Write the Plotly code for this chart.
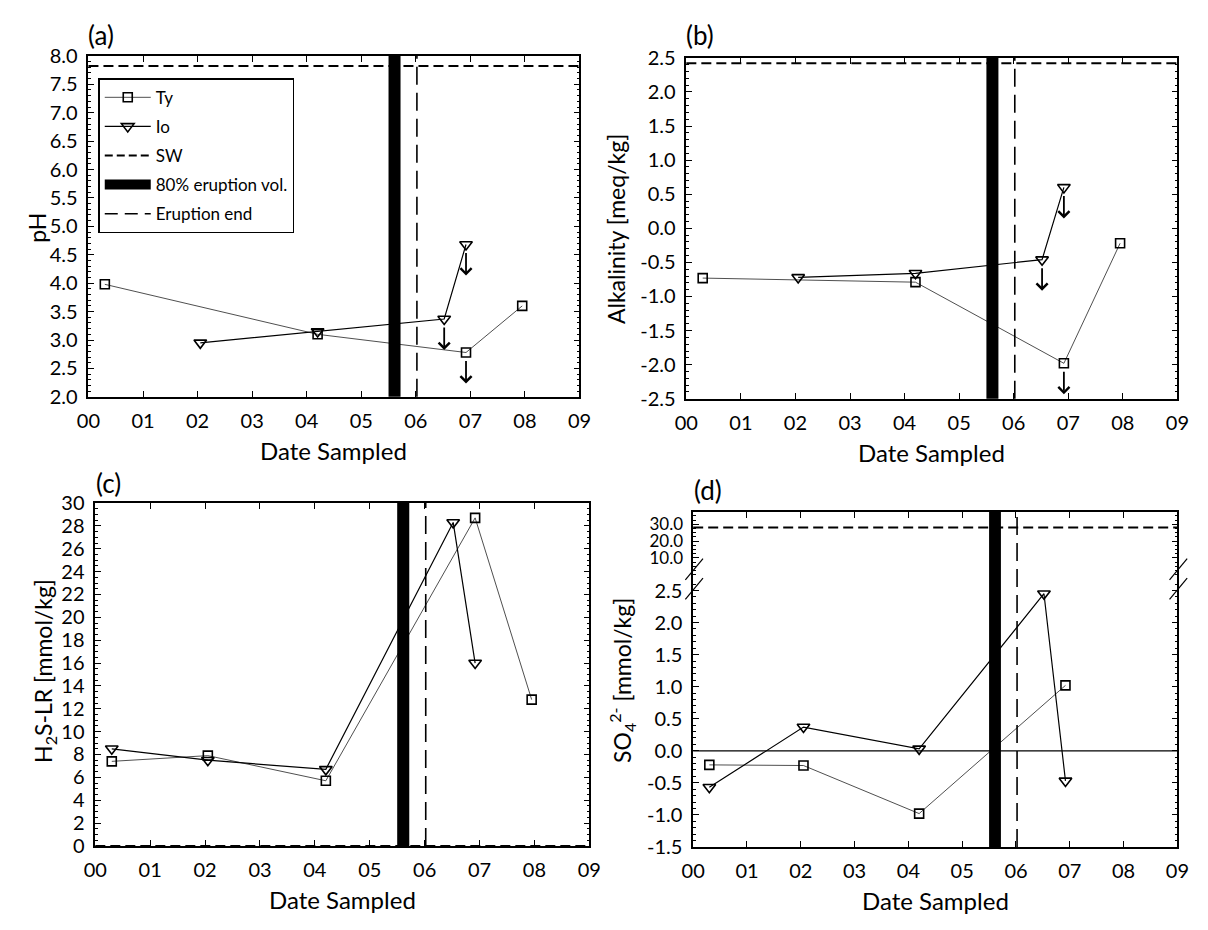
import plotly.graph_objects as go

W, H = 1208, 930

# ---------------- data ----------------
x_tick_vals = [0, 1, 2, 3, 4, 5, 6, 7, 8, 9]
x_tick_labels = ["00", "01", "02", "03", "04", "05", "06", "07", "08", "09"]

eruption80_x0 = 5.50
eruption80_x1 = 5.72
eruption_end_x = 6.02

# (a) pH
ph_ty_x = [0.30, 4.20, 6.92, 7.95]
ph_ty_y = [3.98, 3.10, 2.78, 3.60]
ph_ty_limit = [False, False, True, False]
ph_io_x = [2.05, 4.20, 6.52, 6.92]
ph_io_y = [2.95, 3.15, 3.37, 4.68]
ph_io_limit = [False, False, True, True]
ph_sw = 7.82
ph_ticks = [2.0, 2.5, 3.0, 3.5, 4.0, 4.5, 5.0, 5.5, 6.0, 6.5, 7.0, 7.5, 8.0]
ph_tick_labels = ["2.0", "2.5", "3.0", "3.5", "4.0", "4.5", "5.0", "5.5",
                  "6.0", "6.5", "7.0", "7.5", "8.0"]

# (b) Alkalinity
alk_ty_x = [0.30, 4.20, 6.92, 7.95]
alk_ty_y = [-0.73, -0.79, -1.98, -0.22]
alk_ty_limit = [False, False, True, False]
alk_io_x = [2.05, 4.20, 6.52, 6.92]
alk_io_y = [-0.72, -0.66, -0.46, 0.60]
alk_io_limit = [False, False, True, True]
alk_sw = 2.42
alk_ticks = [-2.5, -2.0, -1.5, -1.0, -0.5, 0.0, 0.5, 1.0, 1.5, 2.0, 2.5]
alk_tick_labels = ["-2.5", "-2.0", "-1.5", "-1.0", "-0.5", "0.0", "0.5",
                   "1.0", "1.5", "2.0", "2.5"]

# (c) H2S-LR
h2s_ty_x = [0.30, 2.05, 4.20, 6.92, 7.95]
h2s_ty_y = [7.4, 7.9, 5.7, 28.7, 12.8]
h2s_io_x = [0.30, 2.05, 4.20, 6.52, 6.92]
h2s_io_y = [8.5, 7.5, 6.7, 28.3, 16.0]
h2s_sw = 0.0
h2s_ticks = list(range(0, 31, 2))
h2s_tick_labels = [str(v) for v in h2s_ticks]

# (d) SO4
so4_ty_x = [0.30, 2.05, 4.20, 6.92]
so4_ty_y = [-0.22, -0.23, -0.98, 1.02]
so4_io_x = [0.30, 2.05, 4.20, 6.52, 6.92]
so4_io_y = [-0.57, 0.37, 0.03, 2.45, -0.47]
so4_sw = 28.2
so4_ticks_low = [-1.5, -1.0, -0.5, 0.0, 0.5, 1.0, 1.5, 2.0, 2.5]
so4_tick_labels_low = ["-1.5", "-1.0", "-0.5", "0.0", "0.5", "1.0", "1.5",
                       "2.0", "2.5"]
so4_ticks_high = [10, 20, 30]
so4_tick_labels_high = ["10.0", "20.0", "30.0"]

# ---------------- layout helpers ----------------
def px_x(p):
    return p / W

def px_y(p):
    return 1 - p / H

FONT = "Lato"
TICKFONT = dict(family=FONT, size=20, color="black")

panels = {
    "a": dict(x=(78, 579), y=(44, 394)),
    "b": dict(x=(688, 1189), y=(46, 396)),
    "c": dict(x=(85, 589), y=(503, 855)),
    "d": dict(x=(695, 1189), y=(512, 856), brk=581),
}

fig = go.Figure()

ty_style = dict(mode="lines+markers",
                line=dict(color="#222222", width=0.8),
                marker=dict(symbol="square-open", size=9,
                            color="black", line=dict(width=1.6)))
io_style = dict(mode="lines+markers",
                line=dict(color="black", width=1.2),
                marker=dict(symbol="triangle-down-open", size=11,
                            color="black", line=dict(width=1.6)))

SW_DASH = "10px,5px"
END_DASH = "18px,8px"

# legend traces come first (panel a)
fig.add_trace(go.Scatter(x=ph_ty_x, y=ph_ty_y, name="Ty", xaxis="x", yaxis="y",
                         legendgroup="g1", showlegend=True, **ty_style))
fig.add_trace(go.Scatter(x=ph_io_x, y=ph_io_y, name="Io", xaxis="x", yaxis="y",
                         legendgroup="g2", showlegend=True, **io_style))
fig.add_trace(go.Scatter(x=[None], y=[None], name="SW", mode="lines",
                         line=dict(color="black", width=2, dash="8px,4px"),
                         legendgroup="g3", xaxis="x", yaxis="y"))
fig.add_trace(go.Scatter(x=[None], y=[None], name="80% eruption vol.", mode="lines",
                         line=dict(color="black", width=10),
                         legendgroup="g4", xaxis="x", yaxis="y"))
fig.add_trace(go.Scatter(x=[None], y=[None], name="Eruption end", mode="lines",
                         line=dict(color="black", width=1.6, dash="13px,7px"),
                         legendgroup="g5", xaxis="x", yaxis="y"))

# other panels
fig.add_trace(go.Scatter(x=alk_ty_x, y=alk_ty_y, name="Ty", xaxis="x2", yaxis="y2",
                         showlegend=False, **ty_style))
fig.add_trace(go.Scatter(x=alk_io_x, y=alk_io_y, name="Io", xaxis="x2", yaxis="y2",
                         showlegend=False, **io_style))
fig.add_trace(go.Scatter(x=h2s_ty_x, y=h2s_ty_y, name="Ty", xaxis="x3", yaxis="y3",
                         showlegend=False, **ty_style))
fig.add_trace(go.Scatter(x=h2s_io_x, y=h2s_io_y, name="Io", xaxis="x3", yaxis="y3",
                         showlegend=False, **io_style))
fig.add_trace(go.Scatter(x=so4_ty_x, y=so4_ty_y, name="Ty", xaxis="x4", yaxis="y4",
                         showlegend=False, **ty_style))
fig.add_trace(go.Scatter(x=so4_io_x, y=so4_io_y, name="Io", xaxis="x4", yaxis="y4",
                         showlegend=False, **io_style))

# ---------------- axes ----------------
def xaxis_def(key, anchor, labels=True, side="bottom", mirror="ticks"):
    p = panels[key]
    return dict(domain=[px_x(p["x"][0]), px_x(p["x"][1])], anchor=anchor,
                range=[0, 9], tickmode="array", tickvals=x_tick_vals,
                ticktext=x_tick_labels, showticklabels=labels,
                ticks="inside", ticklen=6, tickwidth=1.3, tickcolor="black",
                showline=True, linecolor="black", linewidth=1.5, mirror=mirror,
                side=side, showgrid=False, zeroline=False, tickfont=TICKFONT,
                ticklabelstandoff=5)

def yaxis_def(dom, anchor, rng, vals, labels, minor_dtick, font=TICKFONT):
    return dict(domain=dom, anchor=anchor, range=rng, tickmode="array",
                tickvals=vals, ticktext=labels, ticks="inside", ticklen=6,
                tickwidth=1.3, tickcolor="black", showline=True,
                linecolor="black", linewidth=1.5, mirror="ticks",
                showgrid=False, zeroline=False, tickfont=font,
                minor=dict(ticks="inside", ticklen=3, tickcolor="black",
                           tickmode="linear", tick0=0, dtick=minor_dtick,
                           showgrid=False),
                ticklabelstandoff=5)

pa, pb, pc, pd = panels["a"], panels["b"], panels["c"], panels["d"]
fig.update_layout(
    xaxis=xaxis_def("a", "y"),
    yaxis=yaxis_def([px_y(pa["y"][1]), px_y(pa["y"][0])], "x", [2, 8],
                    ph_ticks, ph_tick_labels, 0.1),
    xaxis2=xaxis_def("b", "y2"),
    yaxis2=yaxis_def([px_y(pb["y"][1]), px_y(pb["y"][0])], "x2", [-2.5, 2.5],
                     alk_ticks, alk_tick_labels, 0.1),
    xaxis3=xaxis_def("c", "y3"),
    yaxis3=yaxis_def([px_y(pc["y"][1]), px_y(pc["y"][0])], "x3", [0, 30],
                     h2s_ticks, h2s_tick_labels, 0.5),
    xaxis4=xaxis_def("d", "y4", mirror=False),
    yaxis4=yaxis_def([px_y(pd["y"][1]), px_y(pd["brk"])], "x4", [-1.5, 2.68],
                     so4_ticks_low, so4_tick_labels_low, 0.1),
    xaxis5=dict(xaxis_def("d", "y5", labels=False, side="top", mirror=False),
                matches="x4"),
    yaxis5=yaxis_def([px_y(pd["brk"]), px_y(pd["y"][0])], "x5", [-2.5, 37.5],
                     so4_ticks_high, so4_tick_labels_high, 2.5,
                     font=dict(family=FONT, size=17, color="black")),
)

# ---------------- shapes ----------------
shapes = []
def vbar_and_end(xref, yref, y0=0, y1=1):
    shapes.append(dict(type="rect", xref=xref, yref=yref, x0=eruption80_x0,
                       x1=eruption80_x1, y0=y0, y1=y1, fillcolor="black",
                       line=dict(width=0), layer="above"))
    shapes.append(dict(type="line", xref=xref, yref=yref, x0=eruption_end_x,
                       x1=eruption_end_x, y0=y0, y1=y1,
                       line=dict(color="black", width=1.6, dash=END_DASH)))

def sw_line(xref, yref, val):
    shapes.append(dict(type="line", xref=xref + " domain", yref=yref,
                       x0=0, x1=1, y0=val, y1=val,
                       line=dict(color="black", width=2, dash=SW_DASH)))

vbar_and_end("x", "y domain")
sw_line("x", "y", ph_sw)
vbar_and_end("x2", "y2 domain")
sw_line("x2", "y2", alk_sw)
vbar_and_end("x3", "y3 domain")
sw_line("x3", "y3", h2s_sw)
vbar_and_end("x4", "paper", px_y(pd["y"][1]), px_y(pd["y"][0]))
sw_line("x5", "y5", so4_sw)
shapes.append(dict(type="line", xref="x4 domain", yref="y4", x0=0, x1=1,
                   y0=0, y1=0, line=dict(color="black", width=1.2)))

# axis-break slashes in panel (d)
for xb in (pd["x"][0], pd["x"][1]):
    for yb in (571, 591):
        shapes.append(dict(type="line", xref="paper", yref="paper",
                           x0=px_x(xb - 8), y0=px_y(yb + 11),
                           x1=px_x(xb + 10), y1=px_y(yb - 11),
                           line=dict(color="black", width=1.2)))

fig.update_layout(shapes=shapes)

# ---------------- upper-limit arrows ----------------
annotations = []
def limit_arrows(xs, ys, flags, xref, yref):
    for xv, yv, f in zip(xs, ys, flags):
        if f:
            annotations.append(dict(x=xv, y=yv, xref=xref, yref=yref, text="",
                                    showarrow=True, arrowhead=4, arrowsize=1.2,
                                    arrowwidth=1.8, arrowcolor="black",
                                    ax=0, ay=-24, yshift=-31))

limit_arrows(ph_ty_x, ph_ty_y, ph_ty_limit, "x", "y")
limit_arrows(ph_io_x, ph_io_y, ph_io_limit, "x", "y")
limit_arrows(alk_ty_x, alk_ty_y, alk_ty_limit, "x2", "y2")
limit_arrows(alk_io_x, alk_io_y, alk_io_limit, "x2", "y2")

# ---------------- texts ----------------
def txt(text, x, y, size, angle=0, xanchor="center", yanchor="middle"):
    annotations.append(dict(text=text, x=px_x(x), y=px_y(y), xref="paper",
                            yref="paper", showarrow=False, textangle=angle,
                            xanchor=xanchor, yanchor=yanchor,
                            font=dict(family=FONT, size=size, color="black")))

txt("(a)", 76, 23, 26, xanchor="left")
txt("(b)", 686, 23, 26, xanchor="left")
txt("(c)", 84, 482, 26, xanchor="left")
txt("(d)", 694, 490, 26, xanchor="left")

for p in (pa, pb, pc, pd):
    txt("Date Sampled", (p["x"][0] + p["x"][1]) / 2, p["y"][1] + 55, 24)

txt("pH", 26, 220, 23, angle=-90)
txt("Alkalinity [meq/kg]", 617, 222, 23, angle=-90)
txt("H<sub>2</sub>S-LR [mmol/kg]", 33, 675, 23, angle=-90)
txt("SO<sub>4</sub><sup>2-</sup> [mmol/kg]", 622, 685, 23, angle=-90)

fig.update_layout(
    annotations=annotations,
    width=W, height=H, margin=dict(l=0, r=0, t=0, b=0),
    paper_bgcolor="white", plot_bgcolor="white",
    font=dict(family=FONT, color="black"),
    showlegend=True,
    legend=dict(x=px_x(88), y=px_y(67), xanchor="left", yanchor="top",
                bgcolor="white", bordercolor="black", borderwidth=1.5,
                font=dict(family=FONT, size=17, color="black"),
                tracegroupgap=4, traceorder="grouped", itemwidth=46),
)

fig.write_html("out.html")
